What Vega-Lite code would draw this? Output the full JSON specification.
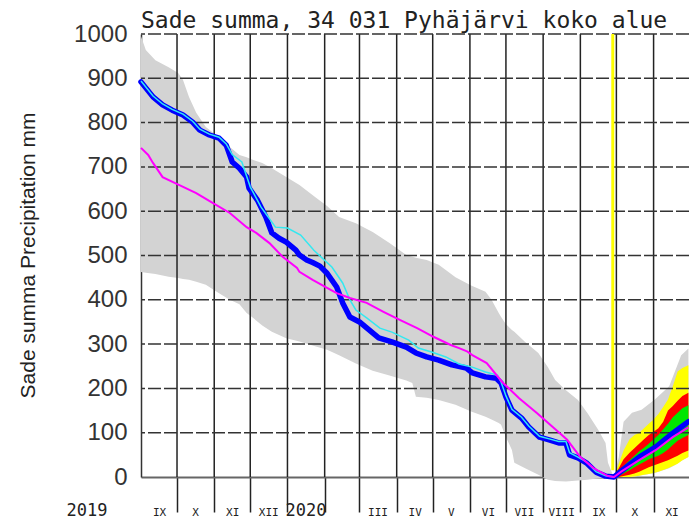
{
  "$schema": "https://vega.github.io/schema/vega-lite/v6.json",
  "width": 548,
  "height": 443,
  "autosize": {"type": "none"},
  "padding": {"left": 141, "top": 34, "right": 0, "bottom": 43},
  "background": "white",
  "title": {"text": "Sade summa, 34 031 Pyhäjärvi koko alue", "anchor": "start", "frame": "group", "font": "DejaVu Sans Mono", "fontSize": 23, "fontWeight": "normal", "color": "#222", "baseline": "alphabetic", "offset": 0, "dy": 29},
  "config": {"view": {"stroke": null}},
  "datasets": {
    "band": [
      {"date": "2019-09-01", "lo": 463, "hi": 995},
      {"date": "2019-09-05", "lo": 461, "hi": 964},
      {"date": "2019-09-13", "lo": 458, "hi": 941},
      {"date": "2019-09-24", "lo": 452, "hi": 925},
      {"date": "2019-10-02", "lo": 449, "hi": 912},
      {"date": "2019-10-06", "lo": 447, "hi": 896},
      {"date": "2019-10-11", "lo": 445, "hi": 858},
      {"date": "2019-10-17", "lo": 441, "hi": 822},
      {"date": "2019-10-25", "lo": 434, "hi": 790},
      {"date": "2019-11-05", "lo": 415, "hi": 767},
      {"date": "2019-11-14", "lo": 400, "hi": 745},
      {"date": "2019-11-22", "lo": 390, "hi": 727},
      {"date": "2019-11-28", "lo": 370, "hi": 722},
      {"date": "2019-12-03", "lo": 360, "hi": 716},
      {"date": "2019-12-11", "lo": 342, "hi": 709},
      {"date": "2019-12-19", "lo": 328, "hi": 697},
      {"date": "2019-12-31", "lo": 313, "hi": 677},
      {"date": "2020-01-11", "lo": 306, "hi": 659},
      {"date": "2020-01-24", "lo": 295, "hi": 632},
      {"date": "2020-02-03", "lo": 287, "hi": 612},
      {"date": "2020-02-13", "lo": 275, "hi": 587},
      {"date": "2020-02-27", "lo": 256, "hi": 573},
      {"date": "2020-03-12", "lo": 240, "hi": 553},
      {"date": "2020-03-26", "lo": 229, "hi": 528},
      {"date": "2020-04-09", "lo": 218, "hi": 501},
      {"date": "2020-04-14", "lo": 212, "hi": 497},
      {"date": "2020-04-17", "lo": 181, "hi": 495},
      {"date": "2020-04-26", "lo": 179, "hi": 490},
      {"date": "2020-05-06", "lo": 174, "hi": 479},
      {"date": "2020-05-20", "lo": 163, "hi": 451},
      {"date": "2020-06-02", "lo": 148, "hi": 432},
      {"date": "2020-06-14", "lo": 136, "hi": 418},
      {"date": "2020-06-19", "lo": 130, "hi": 400},
      {"date": "2020-06-25", "lo": 122, "hi": 370},
      {"date": "2020-06-27", "lo": 118, "hi": 361},
      {"date": "2020-07-01", "lo": 90, "hi": 345},
      {"date": "2020-07-06", "lo": 61, "hi": 332},
      {"date": "2020-07-08", "lo": 32, "hi": 328},
      {"date": "2020-07-17", "lo": 20, "hi": 305},
      {"date": "2020-07-28", "lo": 5, "hi": 280},
      {"date": "2020-08-05", "lo": -6, "hi": 248},
      {"date": "2020-08-11", "lo": -9, "hi": 219},
      {"date": "2020-08-20", "lo": -10, "hi": 196},
      {"date": "2020-08-30", "lo": -8, "hi": 174},
      {"date": "2020-09-07", "lo": -6, "hi": 144},
      {"date": "2020-09-16", "lo": -3, "hi": 106},
      {"date": "2020-09-22", "lo": -1, "hi": 77},
      {"date": "2020-09-24", "lo": 0, "hi": 32},
      {"date": "2020-09-28", "lo": 0, "hi": 5},
      {"date": "2020-09-29", "lo": 0, "hi": 0},
      {"date": "2020-10-03", "lo": 0, "hi": 45},
      {"date": "2020-10-07", "lo": 0, "hi": 125},
      {"date": "2020-10-14", "lo": 0, "hi": 145},
      {"date": "2020-10-22", "lo": 4, "hi": 152},
      {"date": "2020-11-02", "lo": 9, "hi": 175},
      {"date": "2020-11-14", "lo": 20, "hi": 205},
      {"date": "2020-11-19", "lo": 27, "hi": 240},
      {"date": "2020-11-24", "lo": 36, "hi": 275},
      {"date": "2020-11-30", "lo": 45, "hi": 290}
    ],
    "fc": [
      {"date": "2020-09-29", "yl": 0, "yh": 0, "rl": 0, "rh": 0, "gl": 0, "gh": 0},
      {"date": "2020-10-03", "yl": 0, "yh": 30, "rl": 0, "rh": 20, "gl": 2, "gh": 12},
      {"date": "2020-10-07", "yl": 0, "yh": 60, "rl": 2, "rh": 40, "gl": 8, "gh": 25},
      {"date": "2020-10-12", "yl": 0, "yh": 85, "rl": 5, "rh": 55, "gl": 15, "gh": 38},
      {"date": "2020-10-16", "yl": 1, "yh": 95, "rl": 8, "rh": 65, "gl": 22, "gh": 48},
      {"date": "2020-10-20", "yl": 3, "yh": 100, "rl": 12, "rh": 75, "gl": 28, "gh": 58},
      {"date": "2020-10-24", "yl": 5, "yh": 110, "rl": 17, "rh": 85, "gl": 34, "gh": 66},
      {"date": "2020-10-28", "yl": 7, "yh": 120, "rl": 22, "rh": 95, "gl": 40, "gh": 75},
      {"date": "2020-11-01", "yl": 9, "yh": 130, "rl": 26, "rh": 102, "gl": 44, "gh": 85},
      {"date": "2020-11-05", "yl": 12, "yh": 142, "rl": 30, "rh": 110, "gl": 48, "gh": 95},
      {"date": "2020-11-09", "yl": 16, "yh": 158, "rl": 34, "rh": 125, "gl": 54, "gh": 108},
      {"date": "2020-11-13", "yl": 20, "yh": 175, "rl": 38, "rh": 150, "gl": 62, "gh": 120},
      {"date": "2020-11-17", "yl": 25, "yh": 205, "rl": 43, "rh": 160, "gl": 72, "gh": 135},
      {"date": "2020-11-21", "yl": 30, "yh": 238, "rl": 48, "rh": 172, "gl": 82, "gh": 145},
      {"date": "2020-11-25", "yl": 38, "yh": 246, "rl": 54, "rh": 183, "gl": 88, "gh": 155},
      {"date": "2020-11-30", "yl": 45, "yh": 252, "rl": 60, "rh": 190, "gl": 95, "gh": 162}
    ],
    "obs": [
      {"date": "2019-09-01", "v": 892},
      {"date": "2019-09-11", "v": 858},
      {"date": "2019-09-19", "v": 840},
      {"date": "2019-09-27", "v": 828},
      {"date": "2019-10-06", "v": 817},
      {"date": "2019-10-14", "v": 801},
      {"date": "2019-10-20", "v": 783},
      {"date": "2019-10-28", "v": 772},
      {"date": "2019-11-05", "v": 765},
      {"date": "2019-11-11", "v": 749},
      {"date": "2019-11-16", "v": 711},
      {"date": "2019-11-22", "v": 697},
      {"date": "2019-11-28", "v": 677},
      {"date": "2019-11-30", "v": 652},
      {"date": "2019-12-07", "v": 625},
      {"date": "2019-12-14", "v": 587},
      {"date": "2019-12-19", "v": 551},
      {"date": "2019-12-25", "v": 539},
      {"date": "2019-12-31", "v": 530},
      {"date": "2020-01-08", "v": 512},
      {"date": "2020-01-11", "v": 501},
      {"date": "2020-01-17", "v": 490},
      {"date": "2020-01-22", "v": 484},
      {"date": "2020-01-28", "v": 476},
      {"date": "2020-02-03", "v": 460},
      {"date": "2020-02-11", "v": 429},
      {"date": "2020-02-16", "v": 393},
      {"date": "2020-02-22", "v": 361},
      {"date": "2020-03-01", "v": 350},
      {"date": "2020-03-09", "v": 332},
      {"date": "2020-03-17", "v": 314},
      {"date": "2020-03-28", "v": 305},
      {"date": "2020-04-09", "v": 293},
      {"date": "2020-04-17", "v": 280},
      {"date": "2020-04-26", "v": 271},
      {"date": "2020-05-06", "v": 264},
      {"date": "2020-05-17", "v": 253},
      {"date": "2020-05-29", "v": 246},
      {"date": "2020-06-03", "v": 235},
      {"date": "2020-06-14", "v": 226},
      {"date": "2020-06-23", "v": 223},
      {"date": "2020-06-27", "v": 212},
      {"date": "2020-07-01", "v": 181},
      {"date": "2020-07-06", "v": 151},
      {"date": "2020-07-14", "v": 133},
      {"date": "2020-07-20", "v": 113},
      {"date": "2020-07-29", "v": 90},
      {"date": "2020-08-06", "v": 84},
      {"date": "2020-08-14", "v": 77},
      {"date": "2020-08-20", "v": 77},
      {"date": "2020-08-23", "v": 50},
      {"date": "2020-08-30", "v": 43},
      {"date": "2020-09-06", "v": 32},
      {"date": "2020-09-14", "v": 11},
      {"date": "2020-09-22", "v": 2},
      {"date": "2020-09-29", "v": 0},
      {"date": "2020-10-03", "v": 9},
      {"date": "2020-10-20", "v": 45},
      {"date": "2020-11-03", "v": 68},
      {"date": "2020-11-17", "v": 99},
      {"date": "2020-11-24", "v": 113},
      {"date": "2020-11-30", "v": 125}
    ],
    "cy": [
      {"date": "2019-09-01", "v": 894},
      {"date": "2019-09-11", "v": 860},
      {"date": "2019-09-19", "v": 842},
      {"date": "2019-09-27", "v": 830},
      {"date": "2019-10-06", "v": 819},
      {"date": "2019-10-14", "v": 803},
      {"date": "2019-10-20", "v": 785},
      {"date": "2019-10-28", "v": 774},
      {"date": "2019-11-05", "v": 767},
      {"date": "2019-11-11", "v": 752},
      {"date": "2019-11-16", "v": 728},
      {"date": "2019-11-24", "v": 711},
      {"date": "2019-12-01", "v": 655},
      {"date": "2019-12-10", "v": 609},
      {"date": "2019-12-16", "v": 587},
      {"date": "2019-12-22", "v": 564},
      {"date": "2020-01-01", "v": 562},
      {"date": "2020-01-12", "v": 546},
      {"date": "2020-01-23", "v": 512},
      {"date": "2020-01-30", "v": 494},
      {"date": "2020-02-07", "v": 474},
      {"date": "2020-02-16", "v": 438},
      {"date": "2020-02-22", "v": 400},
      {"date": "2020-02-27", "v": 377},
      {"date": "2020-03-07", "v": 359},
      {"date": "2020-03-18", "v": 336},
      {"date": "2020-03-28", "v": 327},
      {"date": "2020-04-11", "v": 309},
      {"date": "2020-04-19", "v": 291},
      {"date": "2020-04-30", "v": 282},
      {"date": "2020-05-12", "v": 271},
      {"date": "2020-05-23", "v": 255},
      {"date": "2020-06-03", "v": 248},
      {"date": "2020-06-14", "v": 237},
      {"date": "2020-06-24", "v": 230},
      {"date": "2020-06-27", "v": 214},
      {"date": "2020-07-01", "v": 183},
      {"date": "2020-07-06", "v": 153},
      {"date": "2020-07-14", "v": 135},
      {"date": "2020-07-20", "v": 115},
      {"date": "2020-07-29", "v": 92},
      {"date": "2020-08-06", "v": 86},
      {"date": "2020-08-14", "v": 80},
      {"date": "2020-08-20", "v": 80},
      {"date": "2020-08-23", "v": 55},
      {"date": "2020-08-30", "v": 45},
      {"date": "2020-09-06", "v": 34},
      {"date": "2020-09-14", "v": 12},
      {"date": "2020-09-22", "v": 3},
      {"date": "2020-09-29", "v": 0}
    ],
    "mg": [
      {"date": "2019-09-01", "v": 743},
      {"date": "2019-09-07", "v": 727},
      {"date": "2019-09-11", "v": 709},
      {"date": "2019-09-19", "v": 677},
      {"date": "2019-10-03", "v": 659},
      {"date": "2019-10-17", "v": 641},
      {"date": "2019-10-31", "v": 618},
      {"date": "2019-11-14", "v": 596},
      {"date": "2019-11-28", "v": 564},
      {"date": "2019-12-06", "v": 551},
      {"date": "2019-12-17", "v": 528},
      {"date": "2019-12-28", "v": 497},
      {"date": "2020-01-09", "v": 472},
      {"date": "2020-01-11", "v": 463},
      {"date": "2020-01-22", "v": 445},
      {"date": "2020-02-03", "v": 427},
      {"date": "2020-02-11", "v": 415},
      {"date": "2020-02-22", "v": 404},
      {"date": "2020-03-07", "v": 393},
      {"date": "2020-03-21", "v": 373},
      {"date": "2020-04-04", "v": 354},
      {"date": "2020-04-18", "v": 336},
      {"date": "2020-05-02", "v": 316},
      {"date": "2020-05-16", "v": 298},
      {"date": "2020-05-23", "v": 291},
      {"date": "2020-05-30", "v": 283},
      {"date": "2020-06-03", "v": 275},
      {"date": "2020-06-15", "v": 257},
      {"date": "2020-06-28", "v": 214},
      {"date": "2020-07-12", "v": 178},
      {"date": "2020-07-27", "v": 144},
      {"date": "2020-08-09", "v": 113},
      {"date": "2020-08-21", "v": 84},
      {"date": "2020-09-01", "v": 45},
      {"date": "2020-09-12", "v": 20},
      {"date": "2020-09-24", "v": 2},
      {"date": "2020-09-29", "v": 0},
      {"date": "2020-10-05", "v": 12},
      {"date": "2020-10-20", "v": 38},
      {"date": "2020-11-03", "v": 61},
      {"date": "2020-11-17", "v": 90},
      {"date": "2020-11-24", "v": 102},
      {"date": "2020-11-30", "v": 112}
    ],
    "months": [
      {"date": "2019-10-01"}, {"date": "2019-11-01"}, {"date": "2019-12-01"},
      {"date": "2020-01-01"}, {"date": "2020-02-01"}, {"date": "2020-03-01"},
      {"date": "2020-04-01"}, {"date": "2020-05-01"}, {"date": "2020-06-01"},
      {"date": "2020-07-01"}, {"date": "2020-08-01"}, {"date": "2020-09-01"},
      {"date": "2020-10-01"}, {"date": "2020-11-01"}
    ],
    "levels": [
      {"v": 100}, {"v": 200}, {"v": 300}, {"v": 400}, {"v": 500},
      {"v": 600}, {"v": 700}, {"v": 800}, {"v": 900}, {"v": 1000}
    ],
    "now": [{"date": "2020-09-28"}]
  },
  "layer": [
    {
      "data": {"name": "band"},
      "mark": {"type": "area", "color": "#d3d3d3"},
      "encoding": {
        "x": {
          "field": "date", "type": "temporal",
          "scale": {"type": "utc", "domain": [{"year": 2019, "month": 9, "date": 1, "utc": true}, {"year": 2020, "month": 11, "date": 30, "hours": 12, "utc": true}]},
          "axis": {
            "title": "2019", "titleFont": "DejaVu Sans Mono", "titleFontSize": 17, "titleFontWeight": "normal", "titleColor": "#222",
            "titleX": -34, "titleY": 38, "titleAlign": "right", "titleBaseline": "alphabetic", "titleAngle": 0,
            "tickCount": {"interval": "month", "step": 1},
            "grid": false,
            "domainColor": "#666", "domainWidth": 2,
            "ticks": true, "tickSize": 35, "tickColor": "#222", "tickWidth": 1.5,
            "tickOpacity": {"condition": {"test": "datum.value < utc(2019,8,2)", "value": 0}, "value": 1},
            "labelExpr": "utcmonth(datum.value) == 0 ? utcFormat(datum.value, '%Y') : (utcmonth(datum.value) == 1 ? '' : ['I','II','III','IV','V','VI','VII','VIII','IX','X','XI','XII'][utcmonth(datum.value)])",
            "labelOffset": 18, "labelAlign": "center", "labelBaseline": "alphabetic", "labelPadding": 3,
            "labelFont": "DejaVu Sans Mono",
            "labelFontSize": {"condition": {"test": "utcmonth(datum.value) == 0", "value": 17}, "value": 11},
            "labelColor": "#222", "labelOverlap": false, "labelFlush": false, "labelBound": false
          }
        },
        "y": {
          "field": "lo", "type": "quantitative",
          "scale": {"domain": [0, 1000], "nice": false, "zero": false},
          "axis": {
            "title": "Sade summa Precipitation mm", "titleFont": "Liberation Sans", "titleFontSize": 21, "titleFontWeight": "normal", "titleColor": "#222",
            "titleX": -113, "titleY": 221, "titleAngle": 270, "titleAlign": "center", "titleBaseline": "middle",
            "values": [0, 100, 200, 300, 400, 500, 600, 700, 800, 900, 1000],
            "format": "d",
            "grid": false, "ticks": false, "labelPadding": 14,
            "labelFont": "Liberation Sans", "labelFontSize": 24, "labelColor": "#333",
            "domainColor": "#333", "domainWidth": 1.5,
            "labelOverlap": false, "labelFlush": false, "labelBound": false
          }
        },
        "y2": {"field": "hi"}
      }
    },
    {
      "data": {"name": "fc"},
      "mark": {"type": "area", "color": "#ffff00"},
      "encoding": {"x": {"field": "date", "type": "temporal"}, "y": {"field": "yl", "type": "quantitative"}, "y2": {"field": "yh"}}
    },
    {
      "data": {"name": "fc"},
      "mark": {"type": "area", "color": "#ff0000"},
      "encoding": {"x": {"field": "date", "type": "temporal"}, "y": {"field": "rl", "type": "quantitative"}, "y2": {"field": "rh"}}
    },
    {
      "data": {"name": "fc"},
      "mark": {"type": "area", "color": "#00e600"},
      "encoding": {"x": {"field": "date", "type": "temporal"}, "y": {"field": "gl", "type": "quantitative"}, "y2": {"field": "gh"}}
    },
    {
      "data": {"name": "months"},
      "mark": {"type": "rule", "color": "#222", "strokeWidth": 1.5},
      "encoding": {"x": {"field": "date", "type": "temporal"}, "y": {"datum": 0}, "y2": {"datum": 1000}}
    },
    {
      "data": {"name": "levels"},
      "mark": {"type": "rule", "color": "#333", "strokeWidth": 1.5, "strokeDash": [13, 3]},
      "encoding": {"y": {"field": "v", "type": "quantitative"}}
    },
    {
      "data": {"name": "obs"},
      "mark": {"type": "line", "color": "#0000ff", "strokeWidth": 5.5, "strokeJoin": "round", "strokeCap": "round"},
      "encoding": {"x": {"field": "date", "type": "temporal"}, "y": {"field": "v", "type": "quantitative"}}
    },
    {
      "data": {"name": "cy"},
      "mark": {"type": "line", "color": "#33e8f0", "strokeWidth": 1.5},
      "encoding": {"x": {"field": "date", "type": "temporal"}, "y": {"field": "v", "type": "quantitative"}}
    },
    {
      "data": {"name": "mg"},
      "mark": {"type": "line", "color": "#ff00ff", "strokeWidth": 2},
      "encoding": {"x": {"field": "date", "type": "temporal"}, "y": {"field": "v", "type": "quantitative"}}
    },
    {
      "data": {"name": "now"},
      "mark": {"type": "rule", "color": "#ffff00", "strokeWidth": 3},
      "encoding": {"x": {"field": "date", "type": "temporal"}, "y": {"datum": 15}, "y2": {"datum": 1000}}
    }
  ]
}
